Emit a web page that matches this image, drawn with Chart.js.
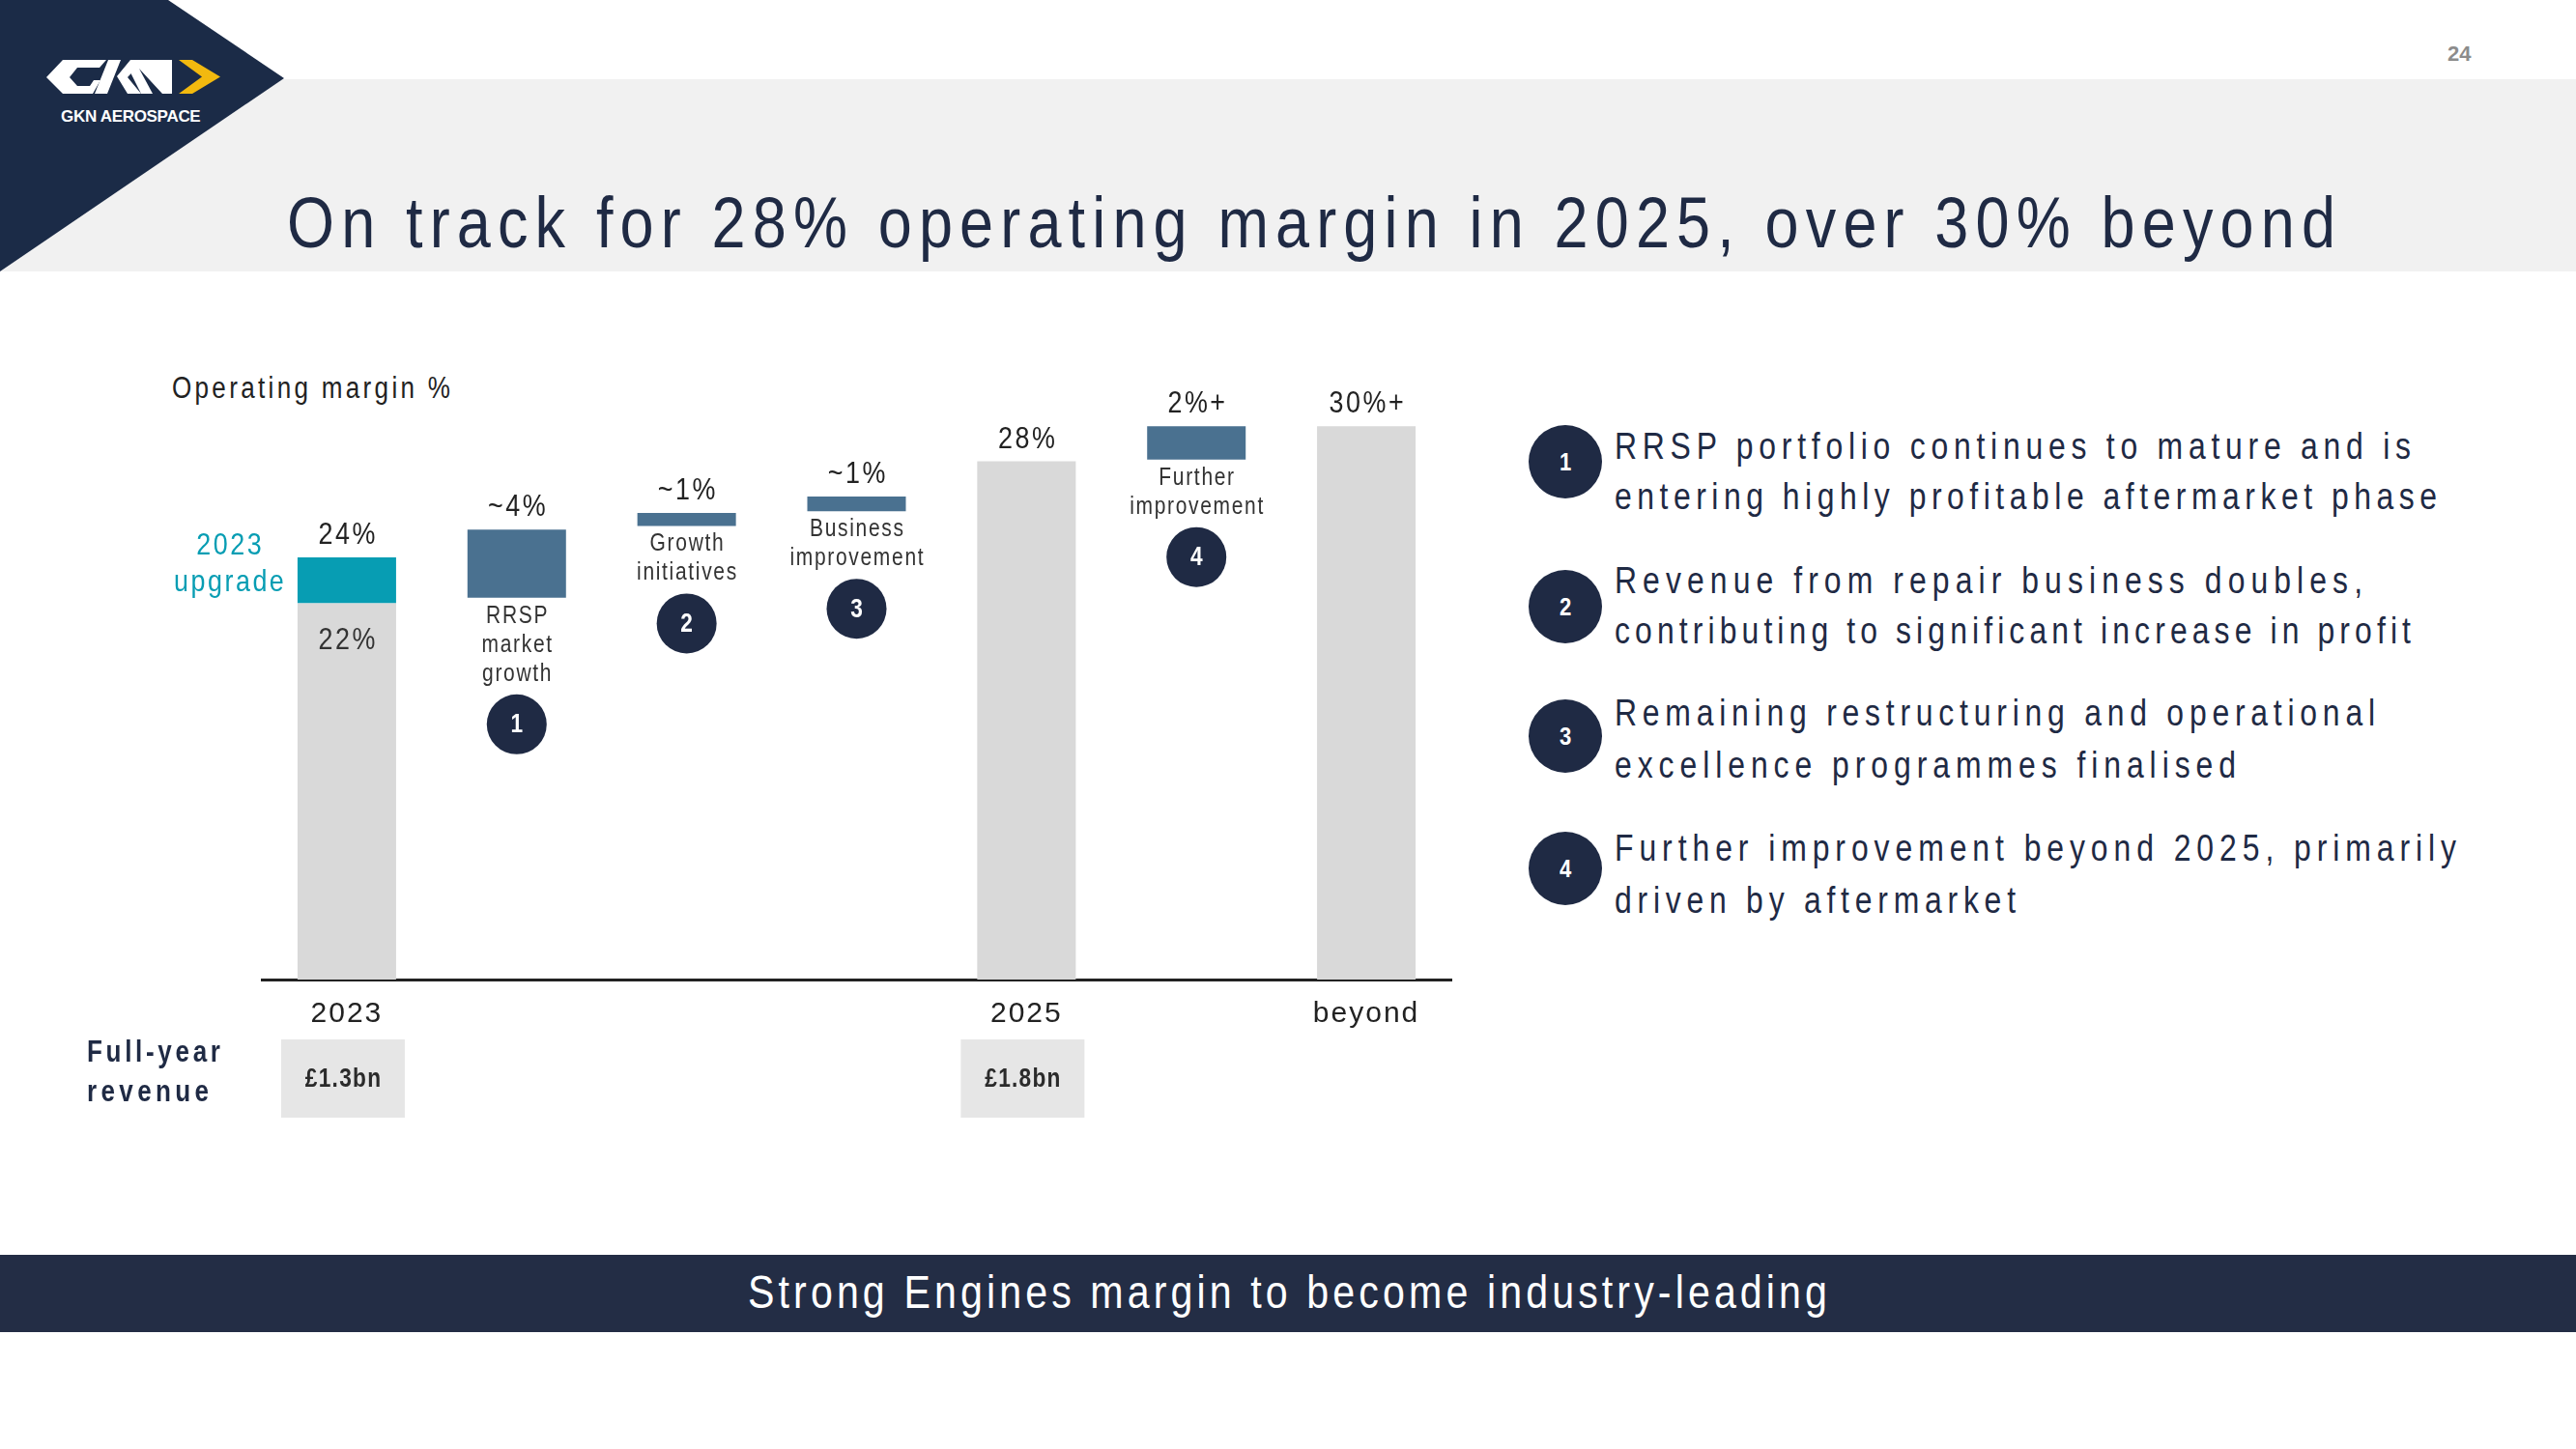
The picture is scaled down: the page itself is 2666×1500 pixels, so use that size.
<!DOCTYPE html>
<html>
<head>
<meta charset="utf-8">
<title>On track for 28% operating margin</title>
<script src="https://cdn.jsdelivr.net/npm/chart.js@4.4.1/dist/chart.umd.min.js"></script>
<style>
  html, body { margin: 0; padding: 0; }
  body {
    width: 2666px; height: 1500px; position: relative; overflow: hidden; background: #fff;
    font-family: "Liberation Sans", Arial, sans-serif; color: #1f2a44;
  }
  .abs { position: absolute; white-space: nowrap; line-height: 1; }
  .fit { transform-origin: 0 0; }
  #band { position: absolute; left: 0; top: 82px; width: 2666px; height: 199px; background: #f1f1f1; }
  #footer { position: absolute; left: 0; top: 1299px; width: 2666px; height: 80px; background: #232d45; }
  #wrap { position: absolute; left: 160px; top: 340px; width: 1400px; height: 840px; }
  .dot {
    position: absolute; width: 76px; height: 76px; border-radius: 50%; background: #1f2a44;
    color: #fff; font: bold 26px "Liberation Sans", Arial, sans-serif;
    display: flex; align-items: center; justify-content: center;
  }
  .dot span { display: inline-block; transform: scaleX(0.85); }
</style>
</head>
<body>
<div id="band"></div>
<svg class="abs" style="left:0;top:0" width="300" height="290">
  <polygon points="0,0 174,0 294,81 0,281" fill="#1b2b47"/>
  <!-- rough GKN mark -->
  <polygon points="48,80 65,62 110,62 103,70 80,70 72,80 80,89 93,89 97,83 104,83 96,97 65,97" fill="#fff"/>
  <polygon points="112,62 125,62 111,97 98,97" fill="#fff"/>
  <polygon points="121,79 135,62 149,62 132,80 146,97 132,97" fill="#fff"/>
  <polygon points="141,62 178,62 178,97 168,97 144,71 158,97 146,97 135,75" fill="#fff"/>
  <polygon points="185,62 199,62 228,79.5 199,97 185,97 209,79.5" fill="#f2b90f"/>
</svg>
<div class="abs" id="logoText" style="left:63px;top:111px;font:bold 17px 'Liberation Sans', Arial, sans-serif;color:#fff;letter-spacing:-0.3px">GKN AEROSPACE</div>
<div class="abs" id="pageNo" style="left:2533px;top:43px;font:bold 22px 'Liberation Sans', Arial, sans-serif;color:#8c8c8c">24</div>
<div class="abs fit" data-w="2120" style="left:297px;top:193px;font-size:75px;color:#1f2a44">On track for 28% operating margin in 2025, over 30% beyond</div>

<div class="abs fit" data-w="288" style="left:178px;top:386px;font-size:31px;color:#222">Operating margin %</div>

<div id="wrap"><canvas id="chart"></canvas></div>

<div class="abs fit" data-w="138" style="left:90px;top:1073px;font-size:31px;font-weight:bold">Full-year</div>
<div class="abs fit" data-w="126" style="left:90px;top:1114px;font-size:31px;font-weight:bold">revenue</div>

<div id="list"></div>

<div id="footer"></div>
<div class="abs fit" data-w="1117" style="left:774px;top:1313px;font-size:49px;color:#fff">Strong Engines margin to become industry-leading</div>

<script>
const FONT = '"Liberation Sans", Arial, sans-serif';
const NARROW = 0.84;

// chart data
const categories = ['2023', 'RRSP market growth', 'Growth initiatives', 'Business improvement', '2025', 'Further improvement', 'beyond'];
const axisLabels = ['2023', '', '', '', '2025', '', 'beyond'];
const totalBars = [[0, 20.4], null, null, null, [0, 28.1], null, [0, 30.0]];
const stepBars = [[20.4, 22.9], [20.7, 24.4], [24.6, 25.3], [25.4, 26.2], null, [28.2, 30.0], null];
const valueLabels = ['24%', '~4%', '~1%', '~1%', '28%', '2%+', '30%+'];
const baseLabel = '22%';
const upgradeLabel = ['2023', 'upgrade'];
const stepNames = [null, ['RRSP', 'market', 'growth'], ['Growth', 'initiatives'], ['Business', 'improvement'], null, ['Further', 'improvement'], null];
const stepNumbers = [null, 1, 2, 3, null, 4, null];
const revenue = ['£1.3bn', null, null, null, '£1.8bn', null, null];

// right-hand notes
const notes = [
  ['RRSP portfolio continues to mature and is', 'entering highly profitable aftermarket phase'],
  ['Revenue from repair business doubles,', 'contributing to significant increase in profit'],
  ['Remaining restructuring and operational', 'excellence programmes finalised'],
  ['Further improvement beyond 2025, primarily', 'driven by aftermarket']
];
const noteWidths = [[824, 851], [774, 824], [787, 643], [871, 415]];
const noteBaselines = [[475, 527], [614, 666], [751, 805], [891, 945]];
const noteDots = [478, 628, 762, 899];

const TEAL = '#079db3', STEEL = '#4a7190', GREY = '#d9d9d9', NAVY = '#1f2a44';

// build the list
const list = document.getElementById('list');
notes.forEach((lines, i) => {
  const dot = document.createElement('div');
  dot.className = 'dot';
  dot.style.left = (1620 - 38) + 'px';
  dot.style.top = (noteDots[i] - 38) + 'px';
  dot.innerHTML = '<span>' + (i + 1) + '</span>';
  list.appendChild(dot);
  lines.forEach((t, k) => {
    const d = document.createElement('div');
    d.className = 'abs fit';
    d.dataset.w = noteWidths[i][k];
    d.style.left = '1671px';
    d.style.fontSize = '38px';
    d.style.top = (noteBaselines[i][k] - 0.8465 * 38) + 'px';
    d.textContent = t;
    list.appendChild(d);
  });
});

// narrow glyphs, then stretch letter spacing so each text spans its width
function fit(el) {
  const w = +el.dataset.w;
  el.style.letterSpacing = '0px';
  el.style.transform = 'scaleX(' + NARROW + ')';
  const n = el.textContent.length;
  const natural = el.getBoundingClientRect().width;
  el.style.letterSpacing = ((w - natural) / ((n - 1) * NARROW)) + 'px';
}
document.querySelectorAll('.fit').forEach(fit);

function narrowText(ctx, t, x, y, spacing) {
  ctx.save();
  ctx.translate(x, y);
  ctx.scale(NARROW, 1);
  ctx.letterSpacing = spacing + 'px';
  ctx.fillText(t, spacing / 2, 0);
  ctx.restore();
}

function topOf(i) {
  return Math.max(...[totalBars[i], stepBars[i]].filter(Boolean).map(r => r[1]));
}

const annotate = {
  id: 'annotate',
  beforeDraw(chart) {
    chart.ctx.letterSpacing = '2px';
  },
  afterDraw(chart) {
    const { ctx, scales: { x, y } } = chart;
    ctx.save();
    ctx.textAlign = 'center';
    ctx.textBaseline = 'alphabetic';
    categories.forEach((c, i) => {
      const cx = x.getPixelForValue(i);
      ctx.font = '32px ' + FONT;
      ctx.fillStyle = '#222';
      narrowText(ctx, valueLabels[i], cx, y.getPixelForValue(topOf(i)) - 14, 3);

      if (stepNames[i]) {
        const bottom = y.getPixelForValue(stepBars[i][0]);
        ctx.font = '25px ' + FONT;
        ctx.fillStyle = '#333';
        stepNames[i].forEach((t, k) => narrowText(ctx, t, cx, bottom + 26 + k * 30, 2));
        const cy = bottom + 26 + (stepNames[i].length - 1) * 30 + 45;
        ctx.fillStyle = NAVY;
        ctx.beginPath();
        ctx.arc(cx, cy, 31, 0, Math.PI * 2);
        ctx.fill();
        ctx.fillStyle = '#fff';
        ctx.font = 'bold 27px ' + FONT;
        ctx.textBaseline = 'middle';
        narrowText(ctx, String(stepNumbers[i]), cx, cy + 1, 0);
        ctx.textBaseline = 'alphabetic';
      }

      if (revenue[i]) {
        const axisY = y.getPixelForValue(0);
        ctx.fillStyle = '#e6e6e6';
        ctx.fillRect(cx - 68, axisY + 62, 128, 81);
        ctx.fillStyle = '#2b2b2b';
        ctx.font = 'bold 27px ' + FONT;
        ctx.textBaseline = 'middle';
        narrowText(ctx, revenue[i], cx - 4, axisY + 62 + 42, 1.5);
        ctx.textBaseline = 'alphabetic';
      }
    });

    // 2023 split: 22% inside grey part, "2023 upgrade" beside teal part
    const cx0 = x.getPixelForValue(0);
    ctx.font = '32px ' + FONT;
    ctx.fillStyle = '#333';
    narrowText(ctx, baseLabel, cx0, y.getPixelForValue(totalBars[0][1]) + 47, 3);
    ctx.fillStyle = TEAL;
    const tealTop = y.getPixelForValue(stepBars[0][1]);
    narrowText(ctx, upgradeLabel[0], cx0 - 122, tealTop - 3, 3);
    narrowText(ctx, upgradeLabel[1], cx0 - 122, tealTop + 35, 3);
    ctx.restore();
  }
};

new Chart(document.getElementById('chart'), {
  type: 'bar',
  data: {
    labels: categories,
    datasets: [
      {
        data: totalBars,
        backgroundColor: GREY,
        grouped: false,
        barPercentage: 0.58,
        categoryPercentage: 1
      },
      {
        data: stepBars,
        backgroundColor: stepBars.map((v, i) => i === 0 ? TEAL : STEEL),
        grouped: false,
        barPercentage: 0.58,
        categoryPercentage: 1
      }
    ]
  },
  options: {
    responsive: true,
    maintainAspectRatio: false,
    animation: false,
    layout: { padding: { left: 111, right: 58, top: 25, bottom: 114 } },
    plugins: { legend: { display: false }, tooltip: { enabled: false } },
    scales: {
      x: {
        grid: { display: false, drawTicks: false },
        border: { display: true, color: '#222', width: 3 },
        ticks: {
          color: '#222',
          font: { family: FONT, size: 30 },
          padding: 18,
          autoSkip: false,
          maxRotation: 0,
          callback: (v, i) => axisLabels[i]
        },
        afterFit: (scale) => { scale.height = 52; }
      },
      y: { display: false, min: 0, max: 34 }
    }
  },
  plugins: [annotate]
});
</script>
</body>
</html>
